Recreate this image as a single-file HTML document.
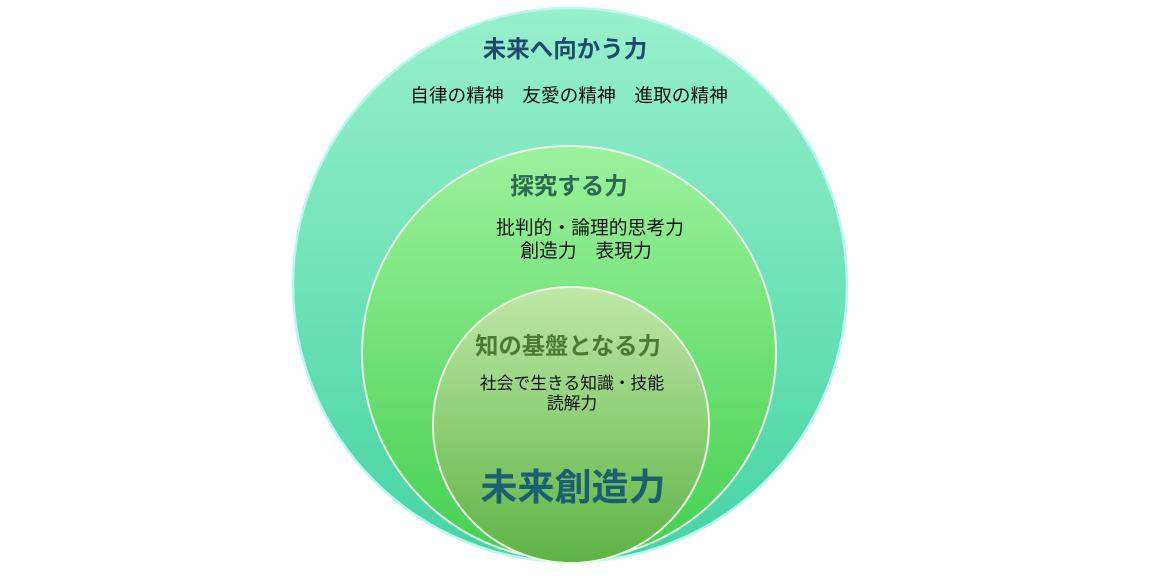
<!DOCTYPE html>
<html><head><meta charset="utf-8"><style>
html,body{margin:0;padding:0;background:#fff;width:1165px;height:576px;overflow:hidden}
svg text{font-family:"Liberation Sans","Noto Sans CJK JP",sans-serif}
</style></head><body>
<svg width="1165" height="576" viewBox="0 0 1165 576">
<defs>
<linearGradient id="g1" x1="0" y1="0" x2="0" y2="1"><stop offset="0" stop-color="#98f0cc"/><stop offset="1" stop-color="#45d4a4"/></linearGradient>
<linearGradient id="g2" x1="0" y1="0" x2="0" y2="1"><stop offset="0" stop-color="#9cf29c"/><stop offset="1" stop-color="#44d050"/></linearGradient>
<linearGradient id="g3" x1="0" y1="0" x2="0" y2="1"><stop offset="0" stop-color="#bfe8a8"/><stop offset="1" stop-color="#5cb444"/></linearGradient>
</defs>
<circle cx="570" cy="285" r="277" fill="url(#g1)" stroke="#b8f8f0" stroke-width="2.5"/>
<circle cx="569" cy="353" r="207" fill="url(#g2)" stroke="#e8fbe8" stroke-width="2"/>
<circle cx="571" cy="425" r="138" fill="url(#g3)" stroke="#eef8e4" stroke-width="2"/>
<g text-anchor="middle">
<text x="565" y="57" font-size="23.5" font-weight="bold" fill="#1d4a6e">未来へ向かう力</text>
<text x="569" y="102" font-size="18.7" fill="#111">自律の精神　友愛の精神　進取の精神</text>
<text x="569" y="194" font-size="23.5" font-weight="bold" fill="#2b6a52">探究する力</text>
<text x="590" y="234" font-size="18.8" fill="#111">批判的・論理的思考力</text>
<text x="586" y="257" font-size="18.8" fill="#111">創造力　表現力</text>
<text x="568" y="354" font-size="23.3" font-weight="bold" fill="#4a7a34">知の基盤となる力</text>
<text x="572" y="389" font-size="16.8" fill="#111">社会で生きる知識・技能</text>
<text x="572" y="409" font-size="16.8" fill="#111">読解力</text>
<text x="573" y="500" font-size="37" font-weight="bold" fill="#1b6070">未来創造力</text>
</g>
</svg>
</body></html>
